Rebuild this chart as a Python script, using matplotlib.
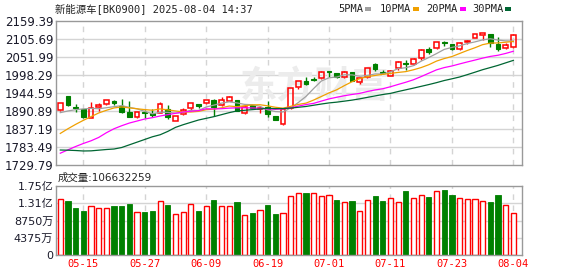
import matplotlib
matplotlib.use('Agg')
import matplotlib.pyplot as plt
from matplotlib.patches import Rectangle
import numpy as np

# ---------------- data ----------------
dates = ['05-12','05-13','05-14','05-15','05-16','05-19','05-20','05-21','05-22','05-23',
         '05-26','05-27','05-28','05-29','05-30','06-03','06-04','06-05','06-06','06-09',
         '06-10','06-11','06-12','06-13','06-16','06-17','06-18','06-19','06-20','06-23',
         '06-24','06-25','06-26','06-27','06-30','07-01','07-02','07-03','07-04','07-07',
         '07-08','07-09','07-10','07-11','07-14','07-15','07-16','07-17','07-18','07-21',
         '07-22','07-23','07-24','07-25','07-28','07-29','07-30','07-31','08-01','08-04']

opens  = [1894,1936,1902,1896,1871,1904,1912,1920,1906,1889,
          1872,1887,1884,1886,1896,1862,1881,1899,1911,1914,
          1924,1909,1922,1923,1884,1908,1897,1902,1876,1851,
          1900,1963,1981,1986,1988,2009,2004,1991,2006,1976,
          1993,2031,2008,1996,2018,2034,2030,2048,2076,2078,
          2096,2090,2075,2097,2110,2118,2120,2090,2078,2081]
highs  = [1916,1937,1911,1897,1918,1914,1924,1924,1927,1920,
          1888,1893,1896,1918,1908,1877,1899,1915,1911,1925,
          1926,1932,1935,1924,1905,1910,1905,1921,1877,1898,
          1960,1981,1992,1992,2010,2010,2005,2010,2008,1989,
          2020,2035,2013,2012,2040,2043,2048,2076,2081,2097,
          2100,2091,2096,2102,2120,2123,2121,2111,2095,2121]
lows   = [1892,1905,1889,1870,1869,1892,1908,1908,1886,1872,
          1870,1869,1873,1884,1868,1861,1880,1893,1900,1913,
          1876,1907,1920,1890,1882,1897,1884,1874,1864,1850,
          1898,1958,1968,1981,1985,1993,1988,1989,1980,1970,
          1988,2011,2001,1995,2013,2013,2028,2043,2061,2075,
          2086,2072,2073,2090,2109,2104,2081,2071,2077,2080]
closes = [1914,1908,1899,1872,1901,1908,1923,1915,1888,1874,
          1887,1884,1880,1911,1872,1876,1893,1914,1907,1924,
          1904,1923,1933,1891,1902,1899,1899,1881,1865,1896,
          1959,1980,1972,1983,2008,2007,1991,2006,1981,1988,
          2018,2015,2005,2011,2038,2031,2046,2072,2066,2096,
          2093,2076,2095,2101,2120,2123,2093,2076,2088,2118]

# volume in 亿 (1e8)
volumes = [1.408,1.357,1.204,1.127,1.246,1.204,1.204,1.255,1.255,1.306,
           1.093,1.101,1.127,1.357,1.280,1.041,1.093,1.298,1.127,1.246,
           1.383,1.246,1.246,1.332,1.016,1.076,1.152,1.280,1.050,1.067,
           1.502,1.579,1.562,1.579,1.502,1.528,1.383,1.349,1.357,1.118,
           1.400,1.485,1.357,1.451,1.349,1.613,1.451,1.528,1.460,1.630,
           1.639,1.511,1.451,1.408,1.408,1.374,1.332,1.511,1.272,1.06632259]
vol_up = [1,0,0,0,1,1,1,0,0,0, 1,0,0,1,0,1,1,1,0,1,
          0,1,1,0,1,0,1,0,0,1, 1,1,0,1,1,1,0,1,0,1,
          1,0,0,1,1,0,1,1,0,1, 0,0,1,1,1,1,0,0,1,1]

ma5 = [1886,1891,1895,1897,1898.8,1897.6,1900.6,1903.8,1907,1901.6,
       1897.4,1889.6,1882.6,1887.2,1886.8,1884.6,1886.4,1893.2,1892.4,1902.8,
       1908.4,1914.4,1918.2,1915,1910.6,1909.6,1904.8,1894.4,1889.2,1888,
       1900,1916.2,1934.4,1958,1980.4,1990,1992.2,1999,1998.6,1994.6,
       1996.8,2001.6,2001.4,2007.4,2017.4,2020,2026.2,2039.6,2050.6,2062.2,
       2074.6,2080.6,2085.2,2092.2,2097,2103,2106.4,2102.6,2100,2099.6]
ma10 = [1824,1838,1851,1863,1874,1885,1893,1900,1903,1900.2,
        1897.5,1895.1,1893.2,1897.1,1894.2,1891,1888,1887.9,1889.8,1894.8,
        1896.5,1900.4,1905.7,1903.7,1906.7,1909,1909.6,1906.3,1902.1,1899.3,
        1904.8,1910.5,1914.4,1923.6,1934.2,1945,1954.2,1966.7,1978.3,1987.5,
        1993.4,1996.9,2000.2,2003,2006,2008.4,2013.9,2020.5,2029,2039.8,
        2047.3,2053.4,2062.4,2071.4,2079.6,2088.8,2093.5,2093.9,2096.1,2098.3]
ma20 = [1765,1775,1785,1794,1802,1812,1826,1838,1847,1855,
        1861,1867,1871,1876,1880,1884,1888,1890,1892,1897.5,
        1897,1897.8,1899.5,1900.4,1900.5,1900,1898.8,1897.1,1896,1897.1,
        1900.7,1905.5,1910.1,1913.7,1920.5,1927,1931.9,1936.5,1940.2,1943.4,
        1949.1,1953.7,1957.3,1963.3,1970.1,1976.7,1984.1,1993.6,2003.7,2013.7,
        2020.4,2025.2,2031.3,2037.2,2042.8,2048.6,2053.7,2057.2,2062.6,2069.1]
ma30 = [1774.5,1774,1773,1771.6,1772,1774,1776,1777.5,1782,1790,
        1798,1806,1814,1820,1830,1842,1850,1857,1864,1869,
        1874,1880,1886,1891,1893,1895,1897,1899,1898,1898.1,
        1899.6,1902,1904.4,1908.1,1911.7,1915,1917.3,1920.3,1923.4,1927.2,
        1931.6,1935.9,1940.1,1943.4,1949,1954.1,1959.2,1964.5,1969.8,1975.5,
        1981.8,1986.9,1992.3,1999.3,2006.6,2014.1,2020.5,2027,2034.5,2041.9]

tick_labels = ['05-15','05-27','06-09','06-19','07-01','07-11','07-23','08-04']
price_ticks = [1729.79,1783.49,1837.19,1890.89,1944.59,1998.29,2051.99,2105.69,2159.39]
vol_ticks = [0,0.4375,0.875,1.3125,1.75]
vol_tick_labels = ['0','4375万','8750万','1.31亿','1.75亿']
ma_names = ['5PMA','10PMA','20PMA','30PMA']

# ---------------- style ----------------
RED = '#ff0000'
GREEN = '#008000'
MA_COLORS = ['#a0a0a0', '#f0a000', '#ff00ff', '#006633']
GRID = '#d4d4d4'
BORDER = '#999999'
TXT = '#1a1a2a'
CJK = ['DejaVu Sans', 'Noto Sans CJK SC']
MONO = ['DejaVu Sans Mono', 'Noto Sans CJK SC']

W, H = 578, 276
fig = plt.figure(figsize=(W/100, H/100), dpi=100)
fig.patch.set_facecolor('white')

L, R = 56, 522
ax = fig.add_axes([L/W, 1-165/H, (R-L)/W, 144/H])
axv = fig.add_axes([L/W, 1-255/H, (R-L)/W, 69/H])

x = np.arange(len(dates))
tick_pos = [dates.index(t) for t in tick_labels]

for a in (ax, axv):
    a.set_xlim(-0.56, 60.13)
    for s in a.spines.values():
        s.set_color(BORDER)
        s.set_linewidth(1.0)
    a.tick_params(length=0)
    a.set_xticks(tick_pos)
    for p in tick_pos:
        a.axvline(p, color=GRID, lw=1.0, ls=(0, (4, 4)), zorder=0)

# main panel
ax.set_ylim(price_ticks[0], price_ticks[-1])
ax.set_yticks(price_ticks)
ax.set_yticklabels([f'{v:.2f}' for v in price_ticks], fontsize=8.5, color=TXT)
ax.tick_params(axis='y', pad=2)
ax.set_xticklabels([])
for v in price_ticks[1:-1]:
    ax.axhline(v, color=GRID, lw=1.0, zorder=0)

# watermark
ax.text(0.555, 0.54, '东方财富', transform=ax.transAxes, fontsize=27,
        family=['Noto Sans CJK SC'], fontweight='bold', color='#ececec',
        ha='center', va='center', zorder=0.5)

bw = 0.62
for i in range(len(dates)):
    o, h, l, c = opens[i], highs[i], lows[i], closes[i]
    up = c >= o
    col = RED if up else GREEN
    lo_b, hi_b = min(o, c), max(o, c)
    if hi_b - lo_b < 1.5:
        mid = (o + c) / 2
        lo_b, hi_b = mid - 0.8, mid + 0.8
    ax.plot([i, i], [l, lo_b], color=col, lw=1.0, zorder=2, solid_capstyle='butt')
    ax.plot([i, i], [hi_b, h], color=col, lw=1.0, zorder=2, solid_capstyle='butt')
    if up:
        ax.add_patch(Rectangle((i - bw/2, lo_b), bw, hi_b - lo_b, facecolor='none',
                               edgecolor=col, lw=1.1, zorder=2))
    else:
        ax.add_patch(Rectangle((i - bw/2, lo_b), bw, hi_b - lo_b, facecolor=col,
                               edgecolor=col, lw=0.8, zorder=2))

for ma, col in zip([ma5, ma10, ma20, ma30], MA_COLORS):
    ax.plot(x, ma, color=col, lw=0.9, zorder=3)

# volume panel
axv.set_ylim(0, 1.75)
axv.set_yticks(vol_ticks)
axv.set_yticklabels(vol_tick_labels, fontsize=8, color=TXT, family=CJK)
axv.tick_params(axis='y', pad=2)
for v in vol_ticks[1:-1]:
    axv.axhline(v, color=GRID, lw=1.0, zorder=0)
vw = 0.68
for i in range(len(dates)):
    if vol_up[i]:
        axv.add_patch(Rectangle((i - vw/2, 0), vw, volumes[i], facecolor='white',
                                edgecolor=RED, lw=1.0, zorder=2))
    else:
        axv.add_patch(Rectangle((i - vw/2, 0), vw, volumes[i], facecolor=GREEN,
                                edgecolor=GREEN, lw=0.6, zorder=2))
axv.set_xticklabels(tick_labels, fontsize=7.5, color=RED, family=MONO)
axv.tick_params(axis='x', pad=3)

# texts
fig.text(55/W, 1-9/H, '新能源车[BK0900] 2025-08-04 14:37', family=MONO,
         fontsize=7.5, color='#222222', ha='left', va='center')
fig.text(58/W, 1-177.5/H, '成交量:' + str(int(round(volumes[-1]*1e8))), family=CJK,
         fontsize=7.5, color='#222222', ha='left', va='center')

leg_x = [338, 380, 426, 472]
sq_x = [365, 413, 460, 505]
for name, tx, sx, col in zip(ma_names, leg_x, sq_x, MA_COLORS):
    fig.text(tx/W, 1-9/H, name, family=MONO, fontsize=7.5, color='#222222',
             ha='left', va='center')
    fig.patches.append(Rectangle((sx/W, 1-10.5/H), 6/W, 4/H, transform=fig.transFigure,
                                 facecolor=col, edgecolor='none'))

fig.savefig('out.png', dpi=100, facecolor='white')
